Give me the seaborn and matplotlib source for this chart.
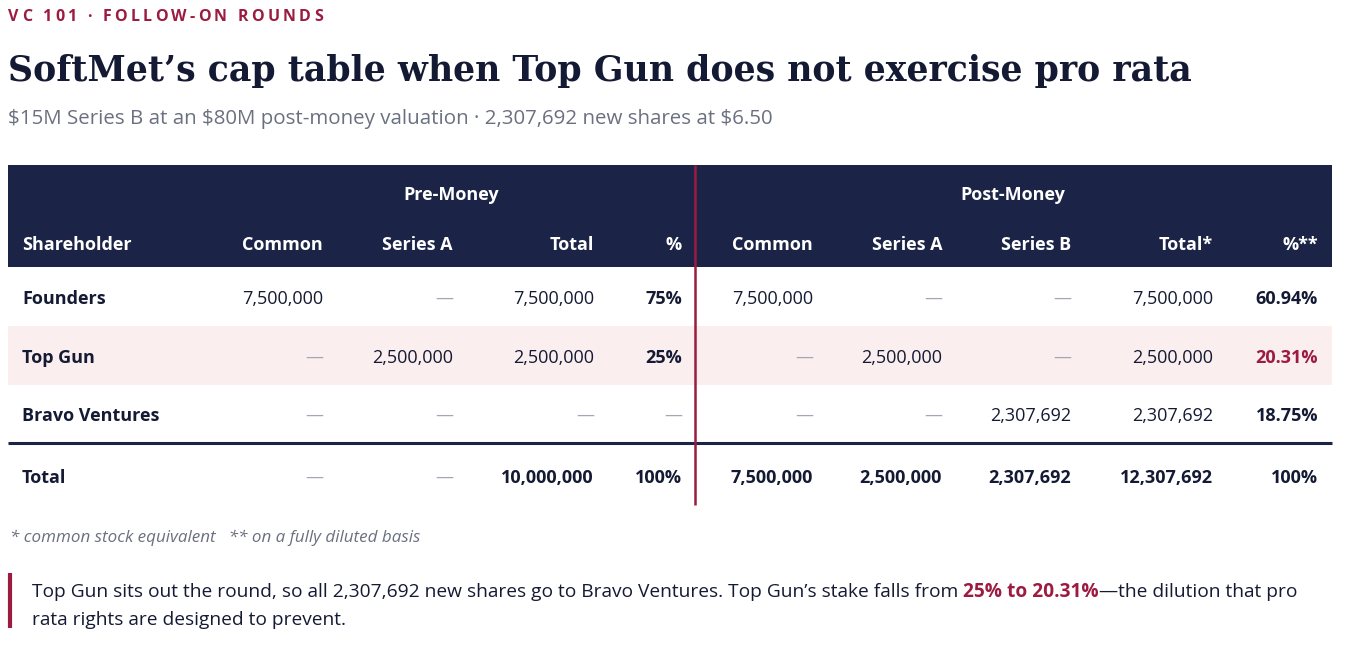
import matplotlib
matplotlib.use("Agg")
import matplotlib.pyplot as plt
import seaborn as sns

# cap table data (None -> dash)
columns = ["Shareholder", "Common", "Series A", "Total", "%",
           "Common", "Series A", "Series B", "Total*", "%**"]
shareholders = ["Founders", "Top Gun", "Bravo Ventures"]
pre_common = [7500000, None, None]
pre_series_a = [None, 2500000, None]
pre_total = [7500000, 2500000, None]
pre_pct = ["75%", "25%", None]
post_common = [7500000, None, None]
post_series_a = [None, 2500000, None]
post_series_b = [None, None, 2307692]
post_total = [7500000, 2500000, 2307692]
post_pct = ["60.94%", "20.31%", "18.75%"]
total_row = [None, None, 10000000, "100%", 7500000, 2500000, 2307692, 12307692, "100%"]

NAVY = "#1b2447"
CRIMSON = "#9b1c40"
PINK = "#fbeeef"
DASH = "#a3a7b3"
INK = "#141a33"
GRAY = "#6b7080"
FS = 13

sns.set_theme(style="white")
plt.rcParams["font.family"] = ["Open Sans", "DejaVu Sans"]

fig = plt.figure(figsize=(13.48, 6.5), dpi=100)
ax = fig.add_axes([0, 0, 1, 1])
ax.set_xlim(0, 1348)
ax.set_ylim(650, 0)
ax.axis("off")
fig.canvas.draw()
rend = fig.canvas.get_renderer()


def width(t):
    return t.get_window_extent(rend).width


def fit(t, w):
    t.set_fontsize(t.get_fontsize() * w / width(t))
    return t


def fmt(v):
    if v is None:
        return "—"
    if isinstance(v, str):
        return v
    return f"{v:,}"


# kicker with letter spacing
kicker = "VC 101 · FOLLOW-ON ROUNDS"
chars = [ax.text(0, 17, c, fontsize=11.5, fontweight="bold", color=CRIMSON, va="center")
         for c in kicker]
ws = [width(c) if c.get_text() != " " else 4.0 for c in chars]
gap = (315 - sum(ws)) / (len(chars) - 1)
x = 8
for c, w in zip(chars, ws):
    c.set_x(x)
    x += w + gap

title = ax.text(8, 71, "SoftMet’s cap table when Top Gun does not exercise pro rata",
                fontsize=30, fontweight="bold", color=INK, va="center",
                family=["DejaVu Serif"])
fit(title, 1185)
sub = ax.text(8, 119, "$15M Series B at an $80M post-money valuation · 2,307,692 new shares at $6.50",
              fontsize=14, color=GRAY, va="center")
fit(sub, 766)

# table geometry
left, right = 8, 1332
col_right = [None, 323, 453, 594, 682, 813, 942, 1071, 1213, 1318]
row_y = [299, 358, 416]
total_y = 478

ax.axhspan(165, 267, xmin=left / 1348, xmax=right / 1348, color=NAVY, lw=0)
ax.axhspan(326, 385, xmin=left / 1348, xmax=right / 1348, color=PINK, lw=0)
ax.plot([left, right], [443, 443], color=NAVY, lw=2.2, solid_capstyle="butt")
ax.plot([695, 695], [165, 505], color=CRIMSON, lw=1.8, solid_capstyle="butt")

hdr = dict(color="white", fontsize=FS, fontweight="bold", va="center")
ax.text(451, 195, "Pre-Money", ha="center", **hdr)
ax.text(1013, 195, "Post-Money", ha="center", **hdr)
ax.text(22, 245, columns[0], ha="left", **hdr)
for name, xr in zip(columns[1:], col_right[1:]):
    ax.text(xr, 245, name, ha="right", **hdr)

body = [pre_common, pre_series_a, pre_total, pre_pct,
        post_common, post_series_a, post_series_b, post_total, post_pct]
for i, who in enumerate(shareholders):
    y = row_y[i]
    ax.text(22, y, who, ha="left", va="center", fontsize=FS, fontweight="bold", color=INK)
    for j, col in enumerate(body):
        v = col[i]
        xr = col_right[j + 1]
        bold = columns[j + 1].startswith("%")
        color = DASH if v is None else INK
        if who == "Top Gun" and j == 8:
            color = CRIMSON
        ax.text(xr, y, fmt(v), ha="right", va="center", fontsize=FS,
                fontweight="bold" if (bold and v is not None) else "normal", color=color)

ax.text(22, total_y, "Total", ha="left", va="center", fontsize=FS, fontweight="bold", color=INK)
for j, v in enumerate(total_row):
    ax.text(col_right[j + 1], total_y, fmt(v), ha="right", va="center", fontsize=FS,
            fontweight="normal" if v is None else "bold",
            color=DASH if v is None else INK)

foot = ax.text(10, 538, "* common stock equivalent   ** on a fully diluted basis", fontsize=11.5,
               style="italic", color=GRAY, va="center")
fit(foot, 411)

# callout
ax.plot([9.5, 9.5], [573, 628], color=CRIMSON, lw=3, solid_capstyle="butt")
segs = [("Top Gun sits out the round, so all 2,307,692 new shares go to Bravo Ventures. "
         "Top Gun’s stake falls from ", "normal", INK),
        ("25% to 20.31%", "bold", CRIMSON),
        ("—the dilution that pro", "normal", INK)]
x = 32
parts = []
for s, w, c in segs:
    t = ax.text(x, 592, s, fontsize=13.5, fontweight=w, color=c, va="center")
    parts.append(t)
    x += width(t)
scale = (1293 - 32) / (x - 32)
x = 32
for t in parts:
    t.set_fontsize(t.get_fontsize() * scale)
    t.set_x(x)
    x += width(t)
ax.text(32, 620, "rata rights are designed to prevent.", fontsize=13.5 * scale,
        color=INK, va="center")

fig.savefig("out.png", dpi=100)
